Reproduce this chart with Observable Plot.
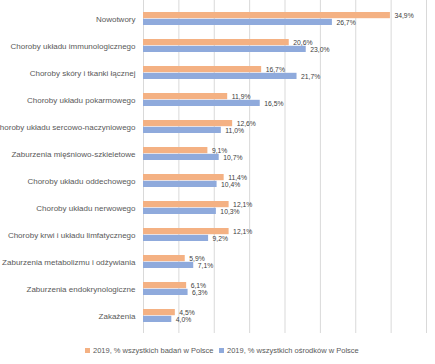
<!DOCTYPE html>
<html>
<head>
<meta charset="utf-8">
<script src="https://cdn.jsdelivr.net/npm/d3@7"></script>
<script src="https://cdn.jsdelivr.net/npm/@observablehq/plot@0.6"></script>
<style>
  body { margin: 0; background: #fff; font-family: "Liberation Sans", Arial, sans-serif; }
  #legend { display: flex; font-size: 7.5px; color: #595959; height: 20px; align-items: center; position: relative; }
  .item { position: absolute; display: flex; align-items: center; white-space: nowrap; }
  .sw { width: 5px; height: 5px; margin-right: 3px; display: inline-block; }
</style>
</head>
<body>
<div id="chart"></div>
<div id="legend"></div>
<script>
const categories = [
  "Nowotwory",
  "Choroby układu immunologicznego",
  "Choroby skóry i tkanki łącznej",
  "Choroby układu pokarmowego",
  "Choroby układu sercowo-naczyniowego",
  "Zaburzenia mięśniowo-szkieletowe",
  "Choroby układu oddechowego",
  "Choroby układu nerwowego",
  "Choroby krwi i układu limfatycznego",
  "Zaburzenia metabolizmu i odżywiania",
  "Zaburzenia endokrynologiczne",
  "Zakażenia"
];
const seriesNames = ["2019, % wszystkich badań w Polsce", "2019, % wszystkich ośrodków w Polsce"];
const badania = [34.9, 20.6, 16.7, 11.9, 12.6, 9.1, 11.4, 12.1, 12.1, 5.9, 6.1, 4.5];
const osrodki = [26.7, 23.0, 21.7, 16.5, 11.0, 10.7, 10.4, 10.3, 9.2, 7.1, 6.3, 4.0];
const xTicks = [0, 5, 10, 15, 20, 25, 30, 35, 40];
const colors = ["#F4B183", "#8FAADC"];

const dataA = categories.map((c, i) => ({cat: c, v: badania[i]}));
const dataB = categories.map((c, i) => ({cat: c, v: osrodki[i]}));
const fmt = d => d.v.toFixed(1).replace(".", ",") + "%";

const half = 6.5;
const chart = Plot.plot({
  width: 435,
  height: 340,
  marginLeft: 143,
  marginRight: 9,
  marginTop: 0,
  marginBottom: 7,
  style: {fontFamily: "Liberation Sans, Arial, sans-serif", color: "#595959", background: "#fff"},
  x: {domain: [0, 40], axis: null},
  y: {domain: categories, paddingInner: 0.535, paddingOuter: 0.225, label: null},
  marks: [
    Plot.ruleX(xTicks, {stroke: "#d9d9d9", strokeWidth: 1}),
    Plot.barX(dataA, {x: "v", y: "cat", fill: colors[0], insetBottom: half + 0.3}),
    Plot.barX(dataB, {x: "v", y: "cat", fill: colors[1], insetTop: half + 0.3}),
    Plot.text(dataA, {x: "v", y: "cat", text: fmt, dx: 4, dy: -3.5, textAnchor: "start", fontSize: 6.8, fill: "#404040"}),
    Plot.text(dataB, {x: "v", y: "cat", text: fmt, dx: 4, dy: 3.8, textAnchor: "start", fontSize: 6.8, fill: "#404040"}),
    Plot.axisY({tickSize: 0, tickPadding: 8, fontSize: 8, fill: "#595959", label: null})
  ]
});
document.getElementById("chart").appendChild(chart);

const legend = document.getElementById("legend");
const lx = [85, 219];
seriesNames.forEach((n, i) => {
  const it = document.createElement("div");
  it.className = "item";
  it.style.left = lx[i] + "px";
  it.innerHTML = `<span class="sw" style="background:${colors[i]}"></span>${n}`;
  legend.appendChild(it);
});
</script>
</body>
</html>
